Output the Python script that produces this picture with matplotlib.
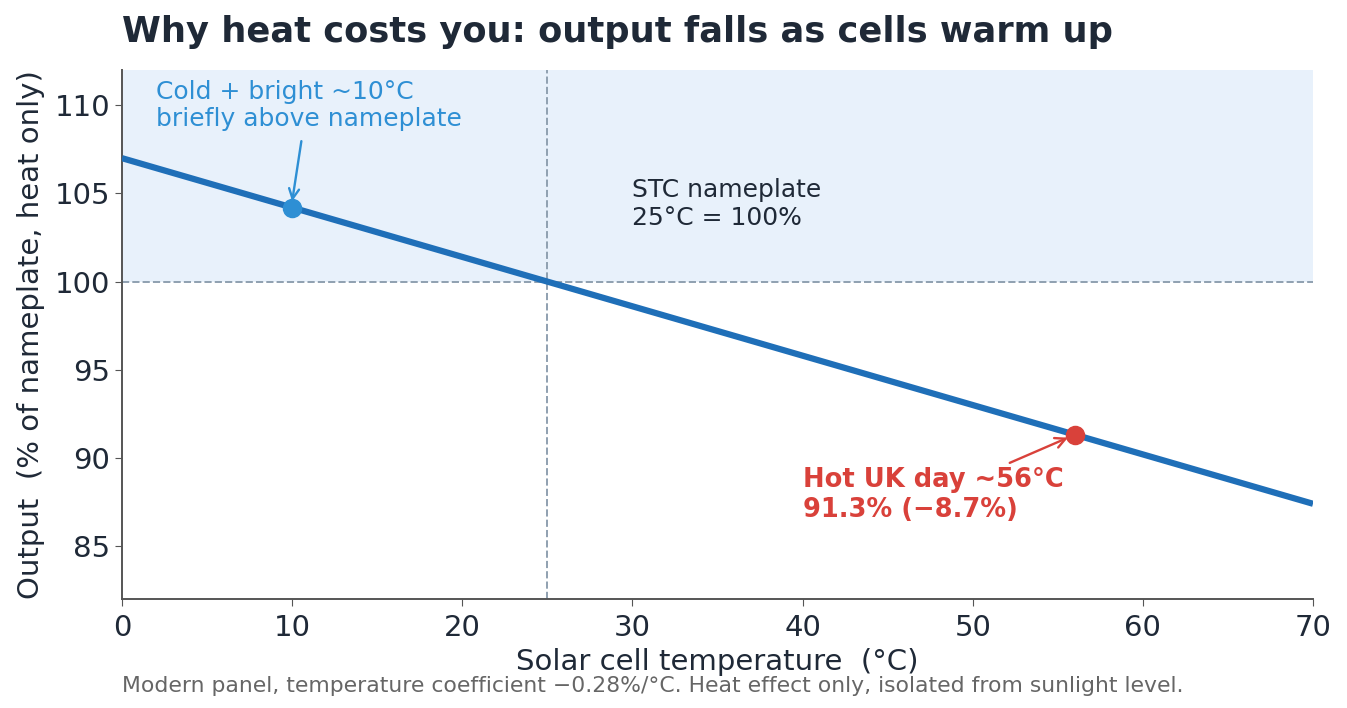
import matplotlib.pyplot as plt

plt.rcParams['font.family'] = ['DejaVu Sans']

# data
temps = [0, 70]
output = [107.0, 87.4]
stc_temp = 25
stc_output = 100
cold_point = (10, 104.2)
hot_point = (56, 91.3)
x_ticks = [0, 10, 20, 30, 40, 50, 60, 70]
y_ticks = [85, 90, 95, 100, 105, 110]

dark = '#1f2937'
line_blue = '#1f6fb8'
point_blue = '#2e8fd4'
red = '#d9413a'
ref_gray = '#8fa0b0'

fig = plt.figure(figsize=(13.47, 7.08), dpi=100)
ax = fig.add_axes([122 / 1347, 1 - 599 / 708, (1313 - 122) / 1347, (599 - 70) / 708])

ax.axhspan(stc_output, 112, color='#e8f1fb', zorder=0, lw=0)
ax.axhline(stc_output, color=ref_gray, ls='--', lw=1.4, zorder=1)
ax.axvline(stc_temp, color=ref_gray, ls='--', lw=1.4, zorder=1)

ax.plot(temps, output, color=line_blue, lw=4.5, zorder=3, solid_capstyle='butt')
ax.scatter([cold_point[0]], [cold_point[1]], s=170, color=point_blue, zorder=4)
ax.scatter([hot_point[0]], [hot_point[1]], s=170, color=red, zorder=4)

ax.annotate('Cold + bright ~10°C\nbriefly above nameplate',
            xy=(cold_point[0], cold_point[1] + 0.35), xytext=(2, 111.45),
            fontsize=18, color=point_blue, va='top', ha='left',
            arrowprops=dict(arrowstyle='->', color=point_blue, lw=1.7,
                            shrinkA=5, shrinkB=0, relpos=(0.48, 0)),
            annotation_clip=False)
ax.text(30, 104.4, 'STC nameplate\n25°C = 100%', fontsize=18, color=dark,
        va='center', ha='left')
ax.annotate('Hot UK day ~56°C\n91.3% (\u22128.7%)',
            xy=(hot_point[0] - 0.4, hot_point[1] - 0.15), xytext=(40, 89.5),
            fontsize=18.5, fontweight='bold', color=red, va='top', ha='left',
            arrowprops=dict(arrowstyle='->', color=red, lw=1.7,
                            shrinkA=2, shrinkB=0, relpos=(0.76, 1.0)))

ax.set_xlim(0, 70)
ax.set_ylim(82, 112)
ax.set_xticks(x_ticks)
ax.set_yticks(y_ticks)
ax.tick_params(labelsize=21, colors=dark, length=5, color='#555555')
ax.tick_params(axis='x', pad=6)
for s in ['top', 'right']:
    ax.spines[s].set_visible(False)
for s in ['left', 'bottom']:
    ax.spines[s].set_color('#555555')
    ax.spines[s].set_linewidth(1.4)

ax.set_xlabel('Solar cell temperature  (°C)', fontsize=21, color=dark, labelpad=4)
ax.set_ylabel('Output  (% of nameplate, heat only)', fontsize=21, color=dark, labelpad=7)

fig.text(122 / 1347, 1 - 32 / 708, 'Why heat costs you: output falls as cells warm up',
         fontsize=25.4, fontweight='bold', color=dark, va='center', ha='left')
fig.text(122 / 1347, 1 - 686 / 708,
         'Modern panel, temperature coefficient \u22120.28%/°C. Heat effect only, isolated from sunlight level.',
         fontsize=15.75, color='#666666', va='center', ha='left')

fig.savefig('out.png', dpi=100)
